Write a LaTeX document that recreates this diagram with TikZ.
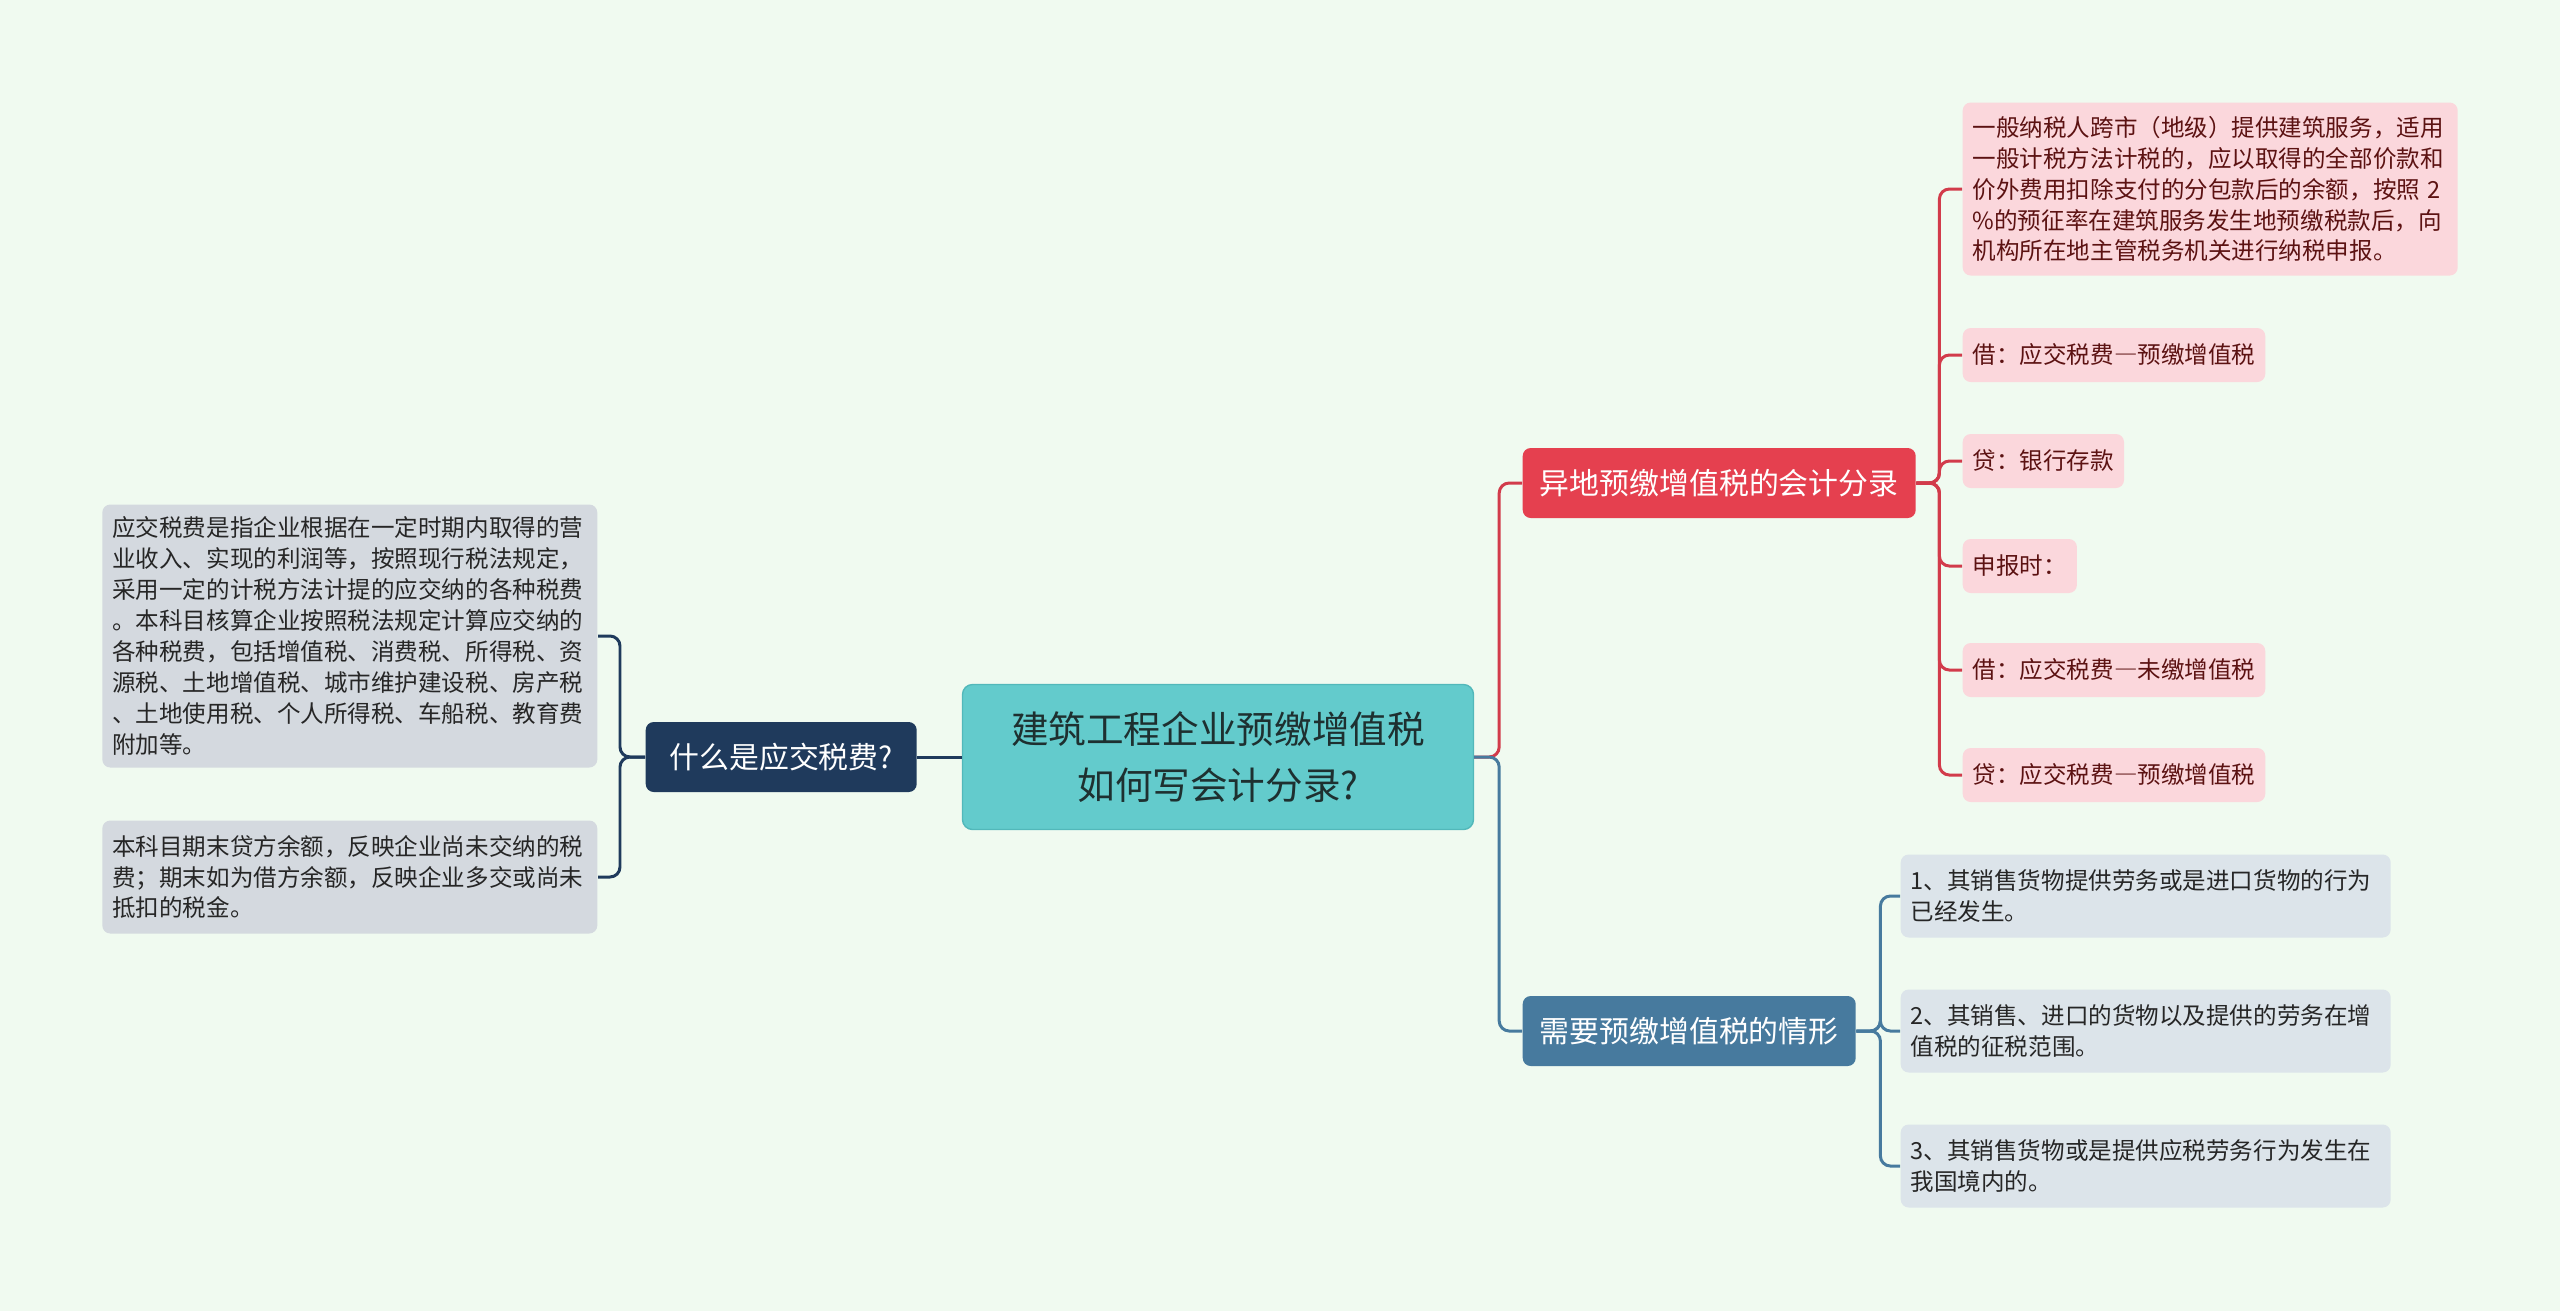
\documentclass[tikz,border=0pt]{standalone}
\usepackage{fontspec}
\setmainfont{Noto Sans CJK SC}
\newcommand{\fdash}{{\addfontfeatures{RawFeature=+fwid}—}}

\definecolor{bgcol}{HTML}{F0FAF0}
\definecolor{rootfill}{HTML}{63CBCC}
\definecolor{rootdraw}{HTML}{52B8BA}
\definecolor{roottext}{HTML}{1E3030}
\definecolor{navycol}{HTML}{1F3A5C}
\definecolor{navyleaf}{HTML}{D4D9DF}
\definecolor{redcol}{HTML}{E5404F}
\definecolor{redline}{HTML}{D23B4B}
\definecolor{redleaf}{HTML}{FBD7DC}
\definecolor{redtext}{HTML}{5C1212}
\definecolor{bluecol}{HTML}{477A9E}
\definecolor{blueleaf}{HTML}{DCE4EA}
\definecolor{leaftext}{HTML}{262626}

\begin{document}
\begin{tikzpicture}[
        x=0.1mm, y=-0.1mm,
        every node/.style={inner sep=0pt},
        root/.style={rectangle, rounded corners=1mm, fill=rootfill, draw=rootdraw,
            minimum width=51.1mm, minimum height=14.5mm, align=center,
            text=roottext, font=\fontsize{10.7}{15.9}\selectfont},
        branch/.style={rectangle, rounded corners=0.8mm, minimum height=7mm,
            anchor=west, text=white, font=\fontsize{8.5}{10}\selectfont},
        leaf/.style={rectangle, rounded corners=0.8mm, inner xsep=1mm, minimum height=5.4mm,
            align=left, font=\fontsize{6.7}{8.8}\selectfont},
        navyleafbox/.style={leaf, fill=navyleaf, text=leaftext, anchor=east, text width=47.5mm},
        redleafbox/.style={leaf, fill=redleaf, text=redtext, anchor=west},
        blueleafbox/.style={leaf, fill=blueleaf, text=leaftext, anchor=west, text width=47mm, minimum height=8.3mm},
        link/.style={line width=0.85pt, rounded corners=1mm}
    ]

    \fill[bgcol] (0,0) rectangle (2560,1311);

    %% ---- Root ----
    \node[root] (root) at (1218,757) {建筑工程企业预缴增值税\\如何写会计分录?};

    %% ---- Branches ----
    \node[branch, fill=navycol, minimum width=27.1mm] (what) at (645,757) {什么是应交税费?};
    \node[branch, fill=redcol, minimum width=39.3mm] (ydj) at (1522,483) {异地预缴增值税的会计分录};
    \node[branch, fill=bluecol, minimum width=33.3mm] (qx) at (1522,1031) {需要预缴增值税的情形};

    %% ---- Left leaves ----
    \node[navyleafbox, minimum height=26.3mm] (l1) at (598,636) {应交税费是指企业根据在一定时期内取得的营\\业收入、实现的利润等，按照现行税法规定，\\采用一定的计税方法计提的应交纳的各种税费\\。本科目核算企业按照税法规定计算应交纳的\\各种税费，包括增值税、消费税、所得税、资\\源税、土地增值税、城市维护建设税、房产税\\、土地使用税、个人所得税、车船税、教育费\\附加等。};
    \node[navyleafbox, minimum height=11.3mm] (l2) at (598,877) {本科目期末贷方余额，反映企业尚未交纳的税\\费；期末如为借方余额，反映企业多交或尚未\\抵扣的税金。};

    %% ---- Red leaves ----
    \node[redleafbox, text width=47.5mm, minimum height=17.3mm] (r1) at (1962,189) {一般纳税人跨市（地级）提供建筑服务，适用\\一般计税方法计税的，应以取得的全部价款和\\价外费用扣除支付的分包款后的余额，按照 2\\\%的预征率在建筑服务发生地预缴税款后，向\\机构所在地主管税务机关进行纳税申报。};
    \node[redleafbox] (r2) at (1962,355) {借：应交税费\fdash 预缴增值税};
    \node[redleafbox] (r3) at (1962,461) {贷：银行存款};
    \node[redleafbox] (r4) at (1962,566) {申报时：};
    \node[redleafbox] (r5) at (1962,670) {借：应交税费\fdash 未缴增值税};
    \node[redleafbox] (r6) at (1962,775) {贷：应交税费\fdash 预缴增值税};

    %% ---- Blue leaves ----
    \node[blueleafbox] (b1) at (1900,896) {1、其销售货物提供劳务或是进口货物的行为\\已经发生。};
    \node[blueleafbox] (b2) at (1900,1031) {2、其销售、进口的货物以及提供的劳务在增\\值税的征税范围。};
    \node[blueleafbox] (b3) at (1900,1166) {3、其销售货物或是提供应税劳务行为发生在\\我国境内的。};

    %% ---- Connectors ----
    \draw[link, navycol] (root.west) -- (what.east);
    \draw[link, redline] (root.east) -- ++(25,0) |- (ydj.west);
    \draw[link, bluecol] (root.east) -- ++(25,0) |- (qx.west);

    \foreach \i in {1,2}
        \draw[link, navycol] (what.west) -- ++(-25,0) |- (l\i.east);
    \foreach \i in {1,...,6}
        \draw[link, redline] (ydj.east) -- ++(23,0) |- (r\i.west);
    \foreach \i in {1,2,3}
        \draw[link, bluecol] (qx.east) -- ++(24,0) |- (b\i.west);

\end{tikzpicture}
\end{document}
